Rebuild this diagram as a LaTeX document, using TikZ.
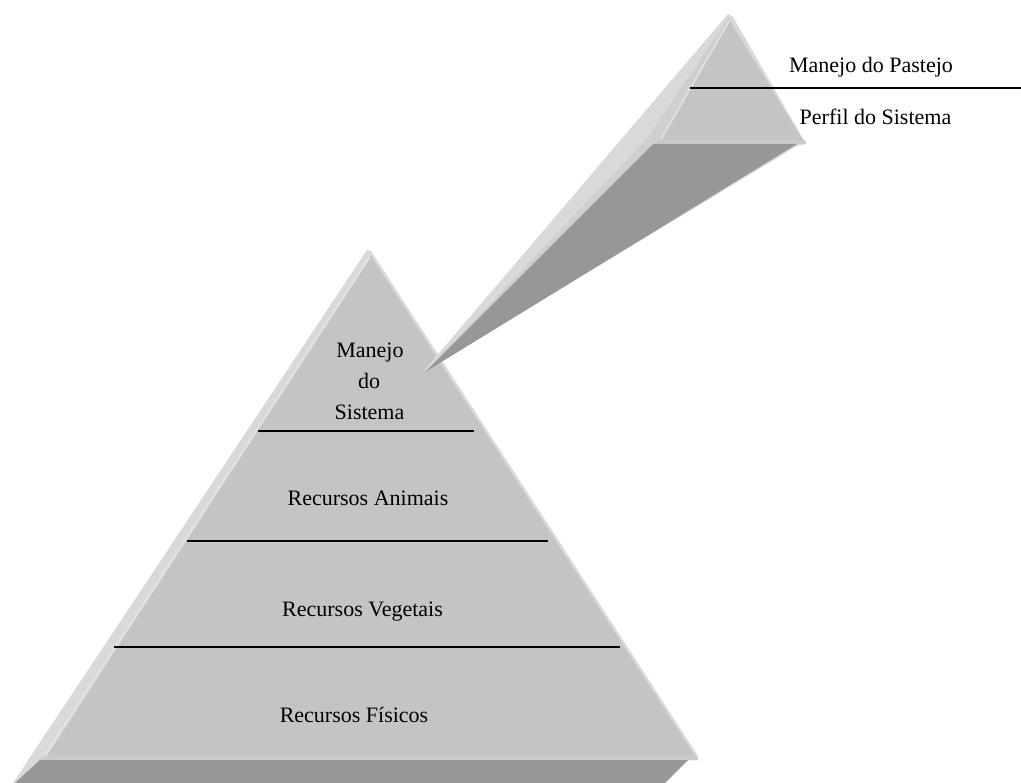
\documentclass[tikz,border=0pt]{standalone}
\usepackage{fontspec}
\setmainfont{Liberation Serif}
\definecolor{facegray}{HTML}{C4C4C4}
\definecolor{bevelgray}{HTML}{D9D9D9}
\definecolor{midgray}{HTML}{CFCFCF}
\definecolor{hilite}{HTML}{E2E2E2}
\definecolor{stripgray}{HTML}{CBCBCB}
\definecolor{darkgray}{HTML}{979797}
\begin{document}
\begin{tikzpicture}[x=1pt,y=-1pt,
  lbl/.style={font=\fontsize{22}{26}\selectfont, anchor=base, inner sep=0pt, text=black},
  divider/.style={line width=2pt, draw=black},
  faceshape/.style={fill=facegray},
  bevelshape/.style={fill=bevelgray},
  darkshape/.style={fill=darkgray}]
\useasboundingbox (0,0) rectangle (1021,783);
\fill[white] (0,0) rectangle (1021,783);

% ---- big pyramid ----
\path[bevelshape] (367,250) -- (13,783) -- (40,783) -- (698,760) -- (698,756) -- (371,251) -- cycle;
\path[faceshape] (371,256) -- (47,756) -- (695,756) -- cycle;
\draw[hilite, line width=2pt] (369,258) -- (45,755);
\path[fill=stripgray] (47,755) -- (695,755) -- (698,760) -- (40,760) -- cycle;
\path[darkshape] (40,760) -- (688,760) -- (665,783) -- (15,783) -- cycle;

\draw[divider] (258,431) -- (474,431);
\draw[divider] (187,541) -- (548,541);
\draw[divider] (114,647) -- (620,647);

\node[lbl] (m1) at (370,358) {Manejo};
\node[lbl] (m2) at (369,389) {do};
\node[lbl] (m3) at (369.5,420) {Sistema};
\node[lbl] (ra) at (368,506) {Recursos Animais};
\node[lbl] (rv) at (362.5,616) {Recursos Vegetais};
\node[lbl] (rf) at (354,722) {Recursos Físicos};

% ---- small pyramid with beam ----
\path[bevelshape] (728,14) -- (423,372) -- (797,146) -- (806,144) -- (733,17) -- cycle;
\path[fill=midgray] (729,17) -- (645,141) -- (425,372) -- (653,144) -- (662,140) -- (730,21) -- cycle;
\path[faceshape] (730,21) -- (662,140) -- (803,140) -- cycle;
\draw[hilite, line width=1.5pt] (729,21) -- (661,139);
\path[fill=stripgray] (660,140) -- (805,140) -- (806,144) -- (653,144) -- cycle;
\path[darkshape] (653,144) -- (797,144) -- (425,372) -- cycle;

\draw[divider] (690,88) -- (1021,88);
\node[lbl] (mp) at (871,73) {Manejo do Pastejo};
\node[lbl] (ps) at (875.5,125) {Perfil do Sistema};
\end{tikzpicture}
\end{document}
